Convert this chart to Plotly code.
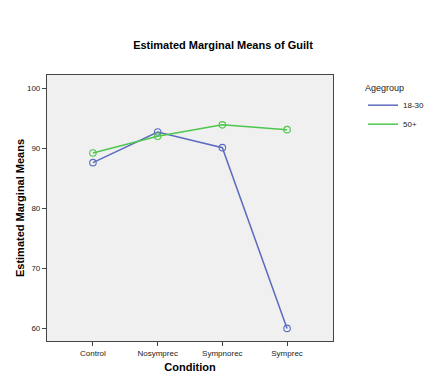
import plotly.graph_objects as go

conditions = ["Control", "Nosymprec", "Sympnorec", "Symprec"]
age_18_30 = [87.6, 92.7, 90.1, 60.0]
age_50_plus = [89.2, 92.0, 93.9, 93.1]
series_names = ["18-30", "50+"]
colors = ["#5b6bbf", "#4ec64e"]
y_ticks = [60, 70, 80, 90, 100]

fig = go.Figure()
for name, vals, col in zip(series_names, [age_18_30, age_50_plus], colors):
    fig.add_trace(go.Scatter(
        x=list(range(len(conditions))), y=vals, mode="lines", name=name,
        line=dict(color=col, width=1.5), legendgroup=name))
    fig.add_trace(go.Scatter(
        x=list(range(len(conditions))), y=vals, mode="markers", name=name,
        marker=dict(symbol="circle-open", size=6.5, color=col, line=dict(width=1.1)),
        showlegend=False, legendgroup=name, hoverinfo="skip"))

font = "Liberation Sans, Arial, sans-serif"
fig.update_layout(
    width=446, height=383,
    margin=dict(l=47, r=113, t=75, b=42, autoexpand=False),
    paper_bgcolor="white", plot_bgcolor="#f0f0f0",
    font=dict(family=font, size=8, color="#222"),
    title=dict(text="<b>Estimated Marginal Means of Guilt</b>", x=0.5, xanchor="center",
               y=1 - 45/383, yanchor="middle", font=dict(size=11, color="#000")),
    xaxis=dict(tickmode="array", tickvals=list(range(len(conditions))), ticktext=conditions,
               range=[-0.71, 3.71], showgrid=False, zeroline=False, automargin=False,
               showline=True, linecolor="#444", linewidth=1.2, mirror=True,
               ticks="outside", ticklen=4, tickcolor="#444",
               title=dict(text="<b>Condition</b>", font=dict(size=11, color="#000"), standoff=6)),
    yaxis=dict(tickmode="array", tickvals=y_ticks, range=[57.9, 102.2],
               showgrid=False, zeroline=False, automargin=False,
               showline=True, linecolor="#444", linewidth=1.2, mirror=True,
               ticks="outside", ticklen=4, tickcolor="#444",
               title=dict(text="<b>Estimated Marginal Means</b>", font=dict(size=11, color="#000"), standoff=0)),
    legend=dict(x=1.105, y=0.985, xanchor="left", yanchor="top",
                title=dict(text="Agegroup", font=dict(size=9)),
                font=dict(size=8), bgcolor="rgba(0,0,0,0)", tracegroupgap=0,
                itemwidth=30),
)
fig.write_html("out.html", post_script="document.body.style.margin='0';",
               config={"displayModeBar": False})
